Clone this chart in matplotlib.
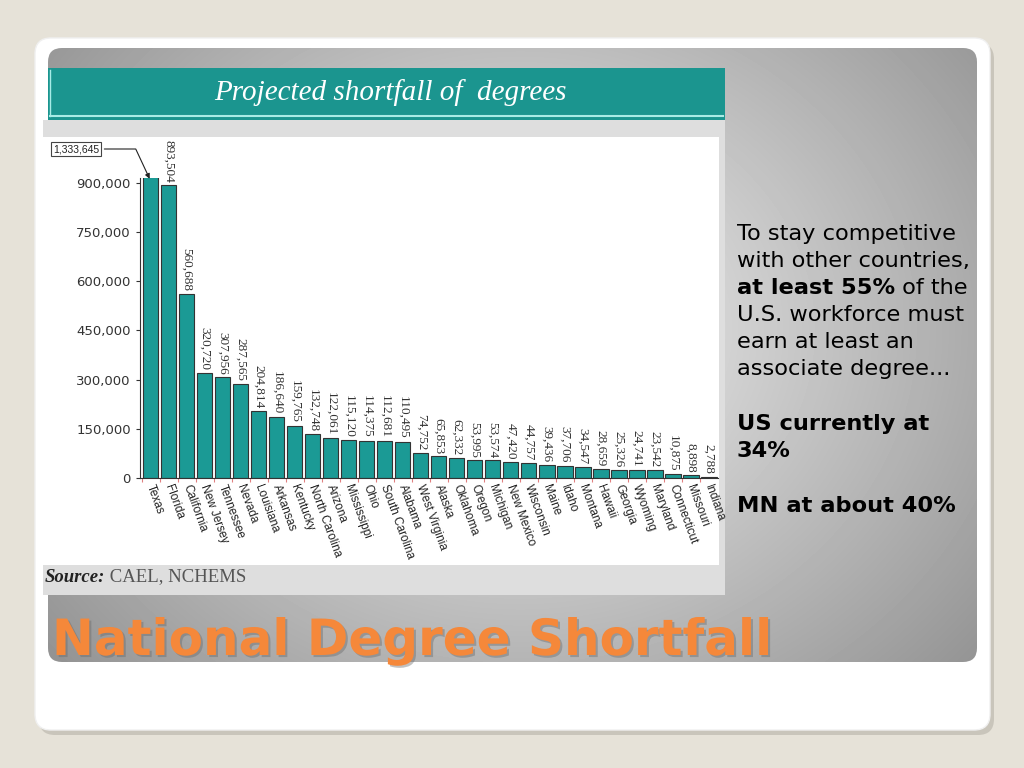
import numpy as np
import matplotlib
matplotlib.use("Agg")
import matplotlib.pyplot as plt
from matplotlib.patches import FancyBboxPatch, Rectangle
import matplotlib.patheffects as pe
from matplotlib.ticker import FuncFormatter

states = ["Texas", "Florida", "California", "New Jersey", "Tennessee", "Nevada",
          "Louisiana", "Arkansas", "Kentucky", "North Carolina", "Arizona",
          "Mississippi", "Ohio", "South Carolina", "Alabama", "West Virginia",
          "Alaska", "Oklahoma", "Oregon", "Michigan", "New Mexico", "Wisconsin",
          "Maine", "Idaho", "Montana", "Hawaii", "Georgia", "Wyoming", "Maryland",
          "Connecticut", "Missouri", "Indiana"]
shortfall = [1333645, 893504, 560688, 320720, 307956, 287565, 204814, 186640,
             159765, 132748, 122061, 115120, 114375, 112681, 110495, 74752,
             65853, 62332, 53995, 53574, 47420, 44757, 39436, 37706, 34547,
             28659, 25326, 24741, 23542, 10875, 8898, 2788]
yticks = [0, 150000, 300000, 450000, 600000, 750000, 900000]

W, H = 1024, 768
fig = plt.figure(figsize=(W / 100, H / 100), dpi=100)
fig.patch.set_facecolor("#e6e2d8")

# slide background, pixel coordinates
bg = fig.add_axes([0, 0, 1, 1])
bg.set_xlim(0, W)
bg.set_ylim(H, 0)
bg.axis("off")

shadow = FancyBboxPatch((39, 43), 955, 692, boxstyle="round,pad=0,rounding_size=16",
                        fc="#c9c5bb", ec="none", zorder=1)
bg.add_patch(shadow)
card = FancyBboxPatch((35, 38), 955, 692, boxstyle="round,pad=0,rounding_size=16",
                      fc="white", ec="#f0f0f0", zorder=2)
bg.add_patch(card)

yy, xx = np.mgrid[0:H, 0:W]
r = np.sqrt(((xx - 520) / 620.0) ** 2 + ((yy - 330) / 520.0) ** 2)
grad = np.clip(0.95 - 0.38 * r, 0.58, 0.95)
panel = FancyBboxPatch((48, 48), 929, 614, boxstyle="round,pad=0,rounding_size=14",
                       fc="none", ec="none", zorder=3)
bg.add_patch(panel)
im = bg.imshow(grad, cmap="gray", vmin=0, vmax=1, extent=(0, W, H, 0),
               zorder=3, aspect="auto")
im.set_clip_path(panel)

# chart picture
bg.add_patch(Rectangle((43, 120), 682, 475, fc="#dedede", ec="none", zorder=4))
bg.add_patch(Rectangle((43, 137), 676, 428, fc="white", ec="none", zorder=5))
bg.add_patch(Rectangle((48, 68), 677, 52, fc="#1b958f", ec="none", zorder=5))
bg.plot([50, 723], [116, 116], color="#a8ece6", lw=1.5, zorder=6)
bg.plot([50, 50], [70, 116], color="#a8ece6", lw=1, zorder=6)
bg.text(390, 93, "Projected shortfall of  degrees", color="white", fontsize=21,
        family="Liberation Serif", style="italic", ha="center", va="center", zorder=7)
t = bg.text(45, 577, "Source:", fontsize=13.5, family="Liberation Serif",
            style="italic", weight="bold", color="#222", va="center", zorder=7)
bg.annotate(" CAEL, NCHEMS", xy=(1, 0), xycoords=t, va="bottom", fontsize=13.5,
            family="Liberation Serif", color="#555", zorder=7)

# right side text
tx, ty, lh, fs = 737, 234, 27, 16.2
lines = [("To stay competitive", "normal"), ("with other countries,", "normal")]
for i, (s, w) in enumerate(lines):
    bg.text(tx, ty + i * lh, s, fontsize=fs, weight=w, family="DejaVu Sans",
            va="center", color="black", zorder=7)
b = bg.text(tx, ty + 2 * lh, "at least 55%", fontsize=fs, weight="bold",
            family="DejaVu Sans", va="center", color="black", zorder=7)
bg.annotate(" of the", xy=(1, 0), xycoords=b, va="bottom", fontsize=fs,
            family="DejaVu Sans", color="black", zorder=7)
for i, s in enumerate(["U.S. workforce must", "earn at least an", "associate degree..."]):
    bg.text(tx, ty + (3 + i) * lh, s, fontsize=fs, family="DejaVu Sans",
            va="center", color="black", zorder=7)
for y, s in [(424, "US currently at"), (451, "34%"), (506, "MN at about 40%")]:
    bg.text(tx, y, s, fontsize=fs, weight="bold", family="DejaVu Sans",
            va="center", color="black", zorder=7)

bg.text(52, 641, "National Degree Shortfall", fontsize=36, weight="bold",
        family="DejaVu Sans", color="#f5883a", va="center", zorder=7,
        path_effects=[pe.withSimplePatchShadow(offset=(1.5, -1.5), shadow_rgbFace="#666",
                                               alpha=0.4)])

# the bar chart
ax = fig.add_axes([140 / W, 1 - 478 / H, (718 - 140) / W, (478 - 178) / H])
ax.set_zorder(8)
ax.patch.set_alpha(0)
x = np.arange(len(states))
ax.bar(x, shortfall, width=0.84, color="#1b9a95", edgecolor="#333333", linewidth=0.8)
ax.set_xlim(-0.6, len(states) - 0.5)
ax.set_ylim(0, 915000)
ax.set_yticks(yticks)
ax.yaxis.set_major_formatter(FuncFormatter(lambda v, p: "{:,}".format(int(v))))
ax.tick_params(axis="y", labelsize=9.5, colors="#333", length=3, width=0.8)
ax.set_xticks(x - 0.5, minor=False)
ax.set_xticklabels([])
ax.tick_params(axis="x", length=3, color="#e08080", width=0.8)
for i, s in enumerate(states):
    ax.text(i - 0.05, -22000, s, rotation=-70, rotation_mode="anchor", ha="left",
            va="center", fontsize=8.5, family="Liberation Sans", color="#222")
for sp in ["top", "right"]:
    ax.spines[sp].set_visible(False)
ax.spines["left"].set_color("#333")
ax.spines["bottom"].set_color("#333")

for i, v in enumerate(shortfall):
    if i == 0:
        continue
    ax.annotate("{:,}".format(v), xy=(i, v), xytext=(0, 2), textcoords="offset points",
                rotation=270, ha="center", va="bottom", fontsize=9.5,
                family="Liberation Serif", color="#333", annotation_clip=False)

ax.annotate("{:,}".format(shortfall[0]), xy=(0, 905000), xytext=(76, H - 149),
            textcoords="figure pixels", ha="center", va="center", fontsize=7.5,
            family="Liberation Sans", color="#222",
            bbox=dict(boxstyle="square,pad=0.2", fc="white", ec="#444", lw=0.8),
            arrowprops=dict(arrowstyle="-|>", color="#222", lw=0.8, mutation_scale=7,
                            connectionstyle="angle,angleA=0,angleB=115,rad=0"),
            annotation_clip=False)

fig.savefig("out.png", dpi=100)
